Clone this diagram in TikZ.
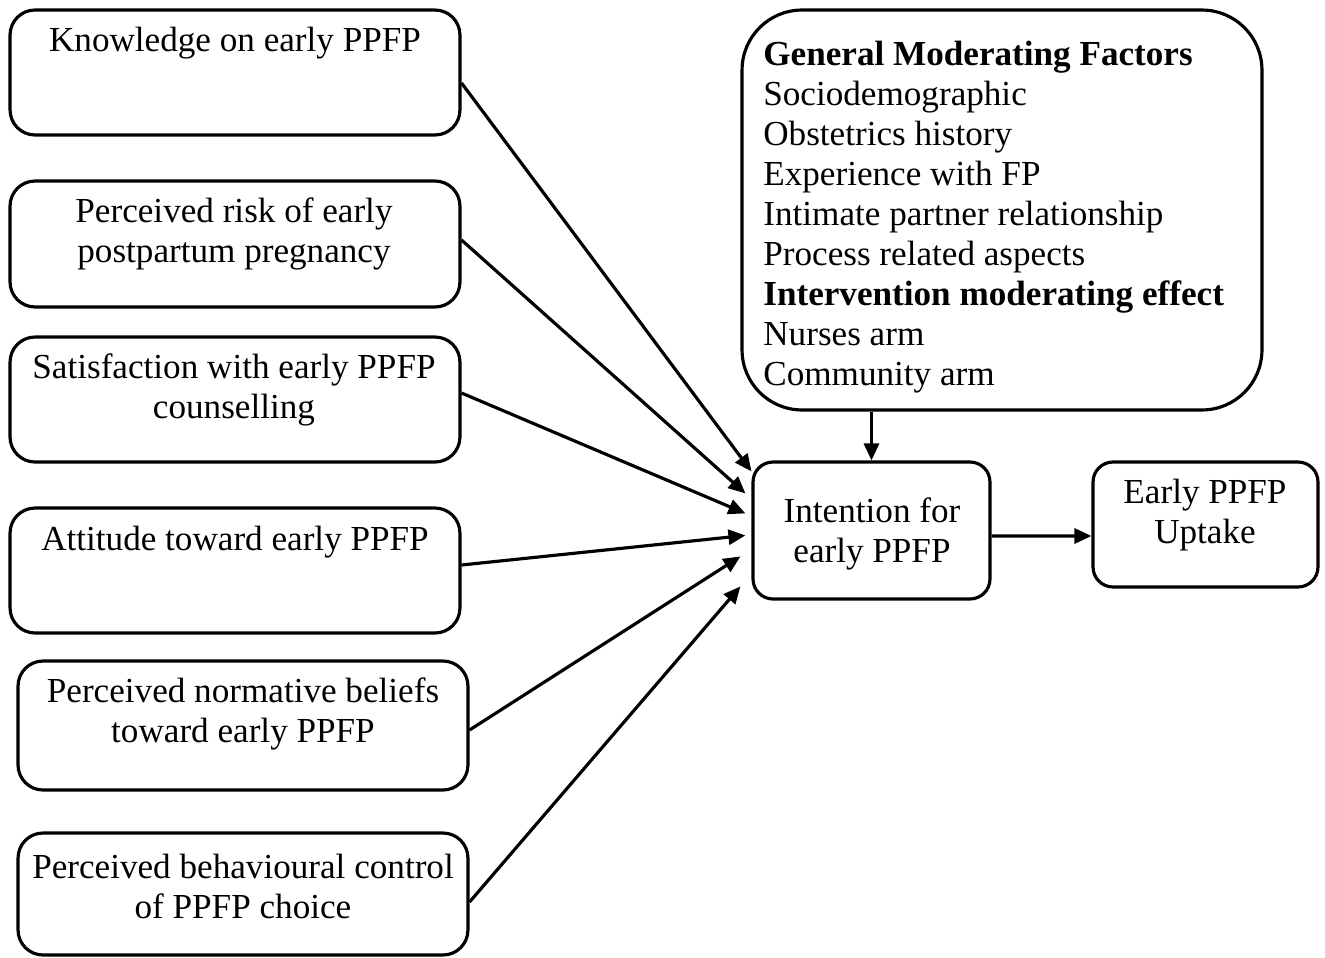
\documentclass[tikz,border=0pt]{standalone}
\usepackage{fontspec}
\setmainfont{Liberation Serif}
\usetikzlibrary{arrows.meta}
\begin{document}
\begin{tikzpicture}[x=0.02cm,y=-0.02cm,
  box/.style={draw,line width=1.8pt,rounded corners=0.5cm,inner sep=0pt},
  txt/.style={align=center,inner sep=0pt,font=\fontsize{20}{22.8}\selectfont},
  arr/.style={line width=1.8pt,-{Triangle[length=0.34cm,width=0.3cm]}}]
\useasboundingbox (0,0) rectangle (1325,957);
% left boxes
\node[box,minimum width=9cm,minimum height=2.5cm] (b1) at (235,72.5) {};
\node[txt] (t1) at (235,43) {Knowledge on early PPFP};
\node[box,minimum width=9cm,minimum height=2.52cm] (b2) at (235,244) {};
\node[txt] (t2) at (234,234) {Perceived risk of early\\postpartum pregnancy};
\node[box,minimum width=9cm,minimum height=2.5cm] (b3) at (235,399.5) {};
\node[txt] (t3) at (234,390) {Satisfaction with early PPFP\\counselling};
\node[box,minimum width=9cm,minimum height=2.5cm] (b4) at (235,570.5) {};
\node[txt] (t4) at (235,542) {Attitude toward early PPFP};
\node[box,minimum width=9cm,minimum height=2.58cm] (b5) at (243,725.5) {};
\node[txt] (t5) at (243,714) {Perceived normative beliefs\\toward early PPFP};
\node[box,minimum width=9cm,minimum height=2.44cm] (b6) at (243,894) {};
\node[txt] (t6) at (243,886) {Perceived behavioural control\\of PPFP choice};
% moderating box
\node[box,rounded corners=1.2cm,minimum width=10.4cm,minimum height=8cm] (mod) at (1002,210) {};
\node[txt,align=left,anchor=west] (tm) at (763,217) {\textbf{General Moderating Factors}\\Sociodemographic\\Obstetrics history\\Experience with FP\\Intimate partner relationship\\Process related aspects\\\textbf{Intervention moderating effect}\\Nurses arm\\Community arm};
% intention and uptake
\node[box,rounded corners=0.4cm,minimum width=4.74cm,minimum height=2.74cm] (int) at (871.5,530.5) {};
\node[txt] (ti) at (872,534) {Intention for\\early PPFP};
\node[box,rounded corners=0.4cm,minimum width=4.5cm,minimum height=2.5cm] (up) at (1205.5,524.5) {};
\node[txt] (tu) at (1205,515) {Early PPFP\\Uptake};
% arrows
\draw[arr] ([yshift=-0.21cm]b1.east) -- ([yshift=-0.22cm]int.north west);
\draw[arr] ([yshift=0.08cm]b2.east) -- ([xshift=-0.12cm,yshift=-0.66cm]int.north west);
\draw[arr] ([yshift=0.13cm]b3.east) -- ([xshift=-0.12cm,yshift=-1.06cm]int.north west);
\draw[arr] ([yshift=0.11cm]b4.east) -- ([xshift=-0.12cm,yshift=-1.5cm]int.north west);
\draw[arr] ([yshift=-0.09cm]b5.east) -- ([xshift=-0.22cm,yshift=-1.92cm]int.north west);
\draw[arr] ([yshift=-0.16cm]b6.east) -- ([xshift=-0.22cm,yshift=-2.52cm]int.north west);
\draw[arr] (mod.south -| int.north) -- (int.north);
\draw[arr] ([yshift=-0.11cm]int.east) -- ([yshift=-0.23cm]up.west);
\end{tikzpicture}
\end{document}
